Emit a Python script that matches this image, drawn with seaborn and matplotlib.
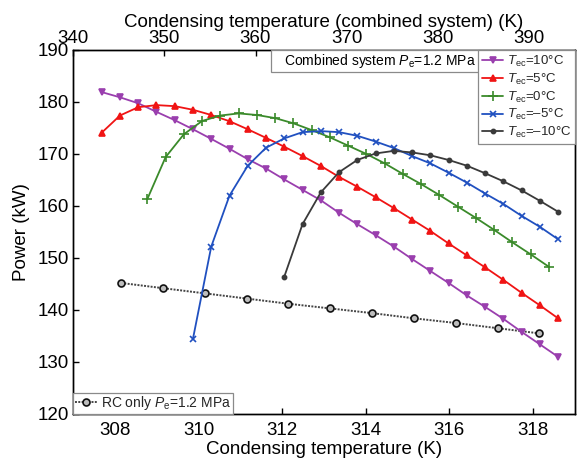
import matplotlib
matplotlib.use("Agg")
import matplotlib.pyplot as plt
import seaborn as sns
from matplotlib.lines import Line2D
from matplotlib.patches import Rectangle

# Combined system, Pe = 1.2 MPa: condensing temperature (K) vs. power (kW)
t_ec10 = [343.15, 345.15, 347.15, 349.15, 351.15, 353.15, 355.15, 357.15, 359.15,
          361.15, 363.15, 365.15, 367.15, 369.15, 371.15, 373.15, 375.15, 377.15,
          379.15, 381.15, 383.15, 385.15, 387.15, 389.15, 391.15, 393.15]
p_ec10 = [181.9, 180.9, 179.75, 178.1, 176.5, 174.75, 172.9, 171.0, 169.0,
          167.2, 165.1, 163.1, 161.1, 158.7, 156.5, 154.4, 152.2, 149.8,
          147.5, 145.2, 142.8, 140.6, 138.3, 135.8, 133.4, 131.0]

t_ec5 = [343.15, 345.15, 347.15, 349.15, 351.15, 353.15, 355.15, 357.15, 359.15,
         361.15, 363.15, 365.15, 367.15, 369.15, 371.15, 373.15, 375.15, 377.15,
         379.15, 381.15, 383.15, 385.15, 387.15, 389.15, 391.15, 393.15]
p_ec5 = [174.1, 177.4, 179.0, 179.4, 179.2, 178.5, 177.5, 176.3, 174.75,
         173.1, 171.4, 169.6, 167.7, 165.6, 163.7, 161.7, 159.6, 157.4,
         155.2, 152.8, 150.5, 148.2, 145.8, 143.3, 140.9, 138.4]

t_ec0 = [348.15, 350.15, 352.15, 354.15, 356.15, 358.15, 360.15, 362.15, 364.15,
         366.15, 368.15, 370.15, 372.15, 374.15, 376.15, 378.15, 380.15, 382.15,
         384.15, 386.15, 388.15, 390.15, 392.15]
p_ec0 = [161.35, 169.4, 173.8, 176.35, 177.4, 177.8, 177.5, 176.9, 175.9,
         174.6, 173.2, 171.6, 170.0, 168.2, 166.15, 164.2, 162.1, 159.9,
         157.7, 155.4, 153.0, 150.7, 148.3]

t_ecm5 = [353.15, 355.15, 357.15, 359.15, 361.15, 363.15, 365.15, 367.15, 369.15,
          371.15, 373.15, 375.15, 377.15, 379.15, 381.15, 383.15, 385.15, 387.15,
          389.15, 391.15, 393.15]
p_ecm5 = [134.5, 152.2, 162.0, 167.75, 171.2, 173.0, 174.2, 174.4, 174.2,
          173.5, 172.4, 171.15, 169.6, 168.2, 166.4, 164.5, 162.4, 160.4,
          158.1, 156.0, 153.6]

t_ecm10 = [363.15, 365.15, 367.15, 369.15, 371.15, 373.15, 375.15, 377.15,
           379.15, 381.15, 383.15, 385.15, 387.15, 389.15, 391.15, 393.15]
p_ecm10 = [146.4, 156.5, 162.6, 166.5, 168.85, 170.1, 170.6, 170.3,
           169.75, 168.85, 167.75, 166.3, 164.75, 163.0, 161.0, 158.9]

# RC only, Pe = 1.2 MPa
t_rc = [308.15, 309.15, 310.15, 311.15, 312.15, 313.15, 314.15, 315.15, 316.15, 317.15, 318.15]
p_rc = [145.2, 144.2, 143.2, 142.2, 141.2, 140.3, 139.4, 138.4, 137.5, 136.5, 135.5]

labels = ["$T_{\\rm ec}$=10°C", "$T_{\\rm ec}$=5°C", "$T_{\\rm ec}$=0°C",
          "$T_{\\rm ec}$=\u20135°C", "$T_{\\rm ec}$=\u201310°C"]

sns.set_theme(style="white")
plt.rcParams["font.family"] = ["Liberation Sans", "DejaVu Sans"]
plt.rcParams["mathtext.fontset"] = "custom"
plt.rcParams["mathtext.rm"] = "Liberation Sans"
plt.rcParams["mathtext.it"] = "Liberation Sans:italic"

fig = plt.figure(figsize=(5.82, 4.62), dpi=100)
ax = fig.add_axes([0.1254, 0.1039, 0.8625, 0.7879])
ax2 = ax.twiny()

series = [
    (t_ec10, p_ec10, "#9a3fae", "v", 5, labels[0]),
    (t_ec5, p_ec5, "#f01414", "^", 5, labels[1]),
    (t_ec0, p_ec0, "#3a8a2a", "+", 7, labels[2]),
    (t_ecm5, p_ecm5, "#2050c0", "x", 5, labels[3]),
    (t_ecm10, p_ecm10, "#3a3a3a", ".", 6, labels[4]),
]

handles = []
for t, p, c, m, ms, lab in series:
    sns.lineplot(x=t, y=p, ax=ax2, color=c, marker=m, markersize=ms,
                 markeredgecolor=c, markerfacecolor=c, markeredgewidth=1.2,
                 linewidth=1.3, legend=False)
    handles.append(Line2D([], [], color=c, marker=m, markersize=ms,
                          markeredgecolor=c, markerfacecolor=c,
                          markeredgewidth=1.2, linewidth=1.3, label=lab))

rc_style = dict(color="#444444", linestyle=(0, (1, 0.7)), linewidth=1.4,
                marker="o", markersize=5, markerfacecolor="#bdbdbd",
                markeredgecolor="#111111", markeredgewidth=1.2)
sns.lineplot(x=t_rc, y=p_rc, ax=ax, legend=False, **rc_style)
rc_handle = Line2D([], [], label="RC only $P_{\\rm e}$=1.2 MPa", **rc_style)

ax.set_xlim(307, 319)
ax.set_ylim(120, 190)
ax2.set_xlim(340, 395)
ax2.set_ylim(120, 190)
ax.set_xticks([308, 310, 312, 314, 316, 318])
ax.set_yticks([120, 130, 140, 150, 160, 170, 180, 190])
ax2.set_xticks([340, 350, 360, 370, 380, 390])

ax.tick_params(axis="x", direction="in", length=4, width=1, labelsize=13.5,
               colors="black", top=False, bottom=True, pad=6)
ax.tick_params(axis="y", direction="in", length=4, width=1, labelsize=13.5,
               colors="black", right=False, left=True, pad=3)
ax2.tick_params(axis="x", direction="in", length=4, width=1, labelsize=13.5,
                colors="black", top=True, bottom=False, pad=2)
for a in (ax, ax2):
    for s in a.spines.values():
        s.set_color("black")
        s.set_linewidth(1.0)
        s.set_visible(True)

ax.set_xlabel("Condensing temperature (K)", fontsize=13.5, labelpad=1, color="black")
ax.set_ylabel("Power (kW)", fontsize=13.5, labelpad=5, color="black")
ax2.set_xlabel("Condensing temperature (combined system) (K)", fontsize=13.5,
               labelpad=2, color="black")

leg1 = ax2.legend(handles=handles, loc="upper right", bbox_to_anchor=(1.0, 1.0),
                  borderaxespad=0, fontsize=9.5, frameon=True, fancybox=False,
                  edgecolor="#8a8a8a", framealpha=1, handlelength=1.6,
                  handletextpad=0.25, labelspacing=0.2, borderpad=0.3)
leg1.get_frame().set_linewidth(0.9)
leg1.set_zorder(6)
ax2.add_artist(leg1)

leg2 = ax2.legend(handles=[rc_handle], loc="lower left", bbox_to_anchor=(0.0, 0.0),
                  borderaxespad=0, fontsize=10, frameon=True, fancybox=False,
                  edgecolor="#8a8a8a", framealpha=1, handlelength=1.6,
                  handletextpad=0.3, borderpad=0.12)
leg2.get_frame().set_linewidth(0.9)

# Title box for the combined-system curves, next to the legend
ax2.add_patch(Rectangle((0.394, 0.9396), 0.4227, 0.0604, transform=ax2.transAxes,
                        facecolor="white", edgecolor="#8a8a8a", linewidth=0.9,
                        zorder=4))
ax2.text(0.420, 0.9698, "Combined system $P_{\\rm e}$=1.2 MPa", transform=ax2.transAxes,
         ha="left", va="center", fontsize=10, color="black", zorder=5)

fig.savefig("out.png", dpi=100)
